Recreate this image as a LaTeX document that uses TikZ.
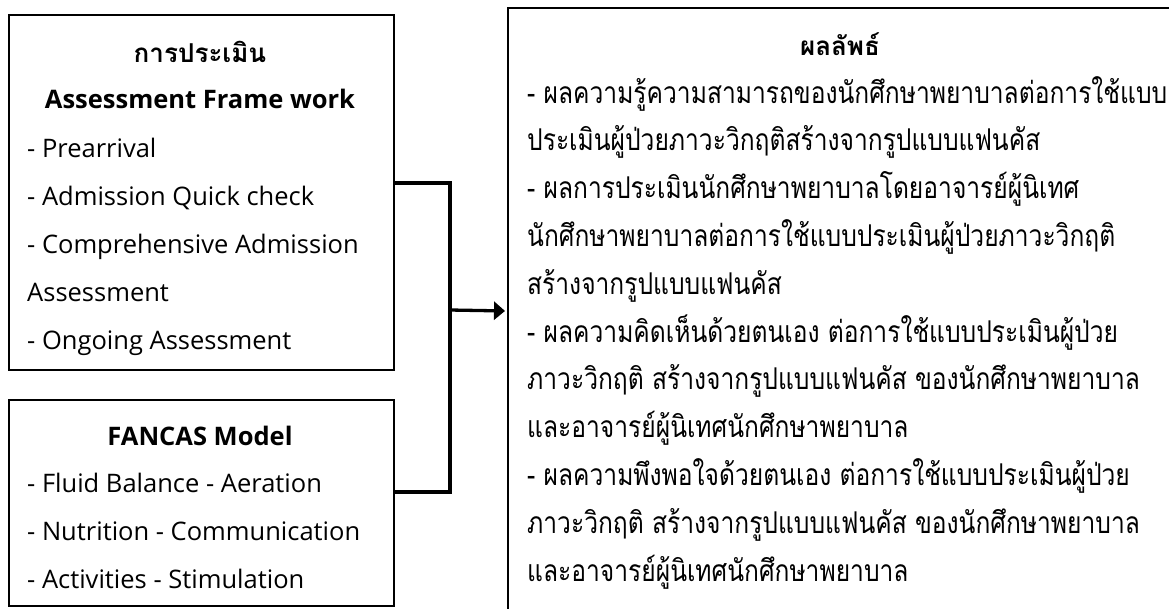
\documentclass[tikz,border=0pt]{standalone}
\usepackage{fontspec}
\setmainfont{Open Sans}
\newfontfamily\thaifont[Script=Thai]{Loma}
\newfontfamily\thainarrow[Script=Thai,FakeStretch=0.82]{Loma}
\usetikzlibrary{arrows.meta}

\begin{document}
\begin{tikzpicture}[x=1pt, y=-1pt,
    framebox/.style={draw, line width=2pt, anchor=north west, inner sep=0pt},
    head/.style={anchor=base, inner sep=0pt, font=\bfseries\fontsize{25.5}{30}\selectfont},
    item/.style={anchor=base west, inner sep=0pt, font=\fontsize{25.5}{30}\selectfont},
    thaihead/.style={anchor=base, inner sep=0pt, font=\thaifont\bfseries\fontsize{26}{30}\selectfont},
    thaiitem/.style={anchor=base west, inner sep=0pt, font=\thainarrow\fontsize{30}{34}\selectfont},
    link/.style={line width=3.3pt}]

    \useasboundingbox (0,0) rectangle (1169,608);
    \clip (0,0) rectangle (1169,608);

    % boxes
    \node[framebox, minimum width=385pt, minimum height=355pt] (frame)  at (8,14)  {};
    \node[framebox, minimum width=385pt, minimum height=206pt] (fancas) at (8,399) {};
    \node[framebox, minimum width=668pt, minimum height=606pt] (result) at (507,7) {};

    % assessment frame work
    \node[thaihead] (frametitle) at (200,62)  {การประเมิน};
    \node[head]     (framename)  at (200,108) {Assessment Frame work};
    \foreach \t [count=\i] in {- Prearrival, - Admission Quick check,
        - Comprehensive Admission, Assessment, - Ongoing Assessment}
        \node[item] (frame\i) at (27,{157+48*(\i-1)}) {\t};

    % fancas model
    \node[head] (fancasname) at (200,445) {FANCAS Model};
    \foreach \t [count=\i] in {- Fluid Balance - Aeration,
        - Nutrition - Communication, - Activities - Stimulation}
        \node[item] (fancas\i) at (27,{492+48*(\i-1)}) {\t};

    % results
    \node[thaihead] (resulttitle) at (840,55) {ผลลัพธ์};
    \foreach \t [count=\i] in {
        - ผลความรู้ความสามารถของนักศึกษาพยาบาลต่อการใช้แบบ,
        ประเมินผู้ป่วยภาวะวิกฤติสร้างจากรูปแบบแฟนคัส,
        - ผลการประเมินนักศึกษาพยาบาลโดยอาจารย์ผู้นิเทศ,
        นักศึกษาพยาบาลต่อการใช้แบบประเมินผู้ป่วยภาวะวิกฤติ,
        สร้างจากรูปแบบแฟนคัส,
        - ผลความคิดเห็นด้วยตนเอง ต่อการใช้แบบประเมินผู้ป่วย,
        ภาวะวิกฤติ สร้างจากรูปแบบแฟนคัส ของนักศึกษาพยาบาล,
        และอาจารย์ผู้นิเทศนักศึกษาพยาบาล,
        - ผลความพึงพอใจด้วยตนเอง ต่อการใช้แบบประเมินผู้ป่วย,
        ภาวะวิกฤติ สร้างจากรูปแบบแฟนคัส ของนักศึกษาพยาบาล,
        และอาจารย์ผู้นิเทศนักศึกษาพยาบาล}
        \node[thaiitem] (result\i) at (527,{103+47.8*(\i-1)}) {\t};

    % connectors
    \coordinate (join) at (450,310);
    \draw[link] ([yshift=9.5pt]frame.east) -| (join);
    \draw[link] ([yshift=11pt]fancas.east) -| (join);
    \draw[link, -{Triangle[length=11pt, width=18pt]}, shorten >=2pt] (join) -- (result.west);
\end{tikzpicture}
\end{document}
